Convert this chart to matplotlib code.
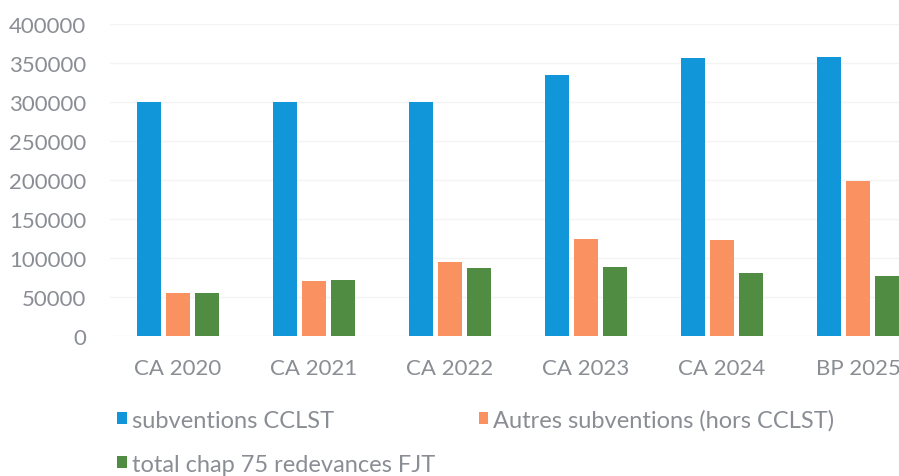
import numpy as np
import matplotlib
matplotlib.use("Agg")
import matplotlib.pyplot as plt

categories = ["CA 2020", "CA 2021", "CA 2022", "CA 2023", "CA 2024", "BP 2025"]
subventions_cclst = [300000, 300000, 300000, 334000, 357000, 357500]
autres_subventions = [55000, 70000, 94500, 125000, 123500, 199000]
total_chap_75 = [55000, 72000, 87000, 88500, 80500, 77500]

series_labels = ["subventions CCLST", "Autres subventions (hors CCLST)",
                 "total chap 75 redevances FJT"]
colors = ["#1296da", "#fa9161", "#508c41"]
text_color = "#8a8e94"

plt.rcParams["font.family"] = ["Lato", "DejaVu Sans"]

fig = plt.figure(figsize=(8.99, 4.77), dpi=100)
# plot area: x from 110px, zero line at 337px, top at 25px
ax = fig.add_axes([110 / 899, (477 - 337) / 477, 1 - 110 / 899, (337 - 25) / 477])

x = np.arange(len(categories))
w = 0.18
step = 0.215
series = [subventions_cclst, autres_subventions, total_chap_75]
bars = []
for i, (vals, c) in enumerate(zip(series, colors)):
    bars.append(ax.bar(x + (i - 1) * step, vals, width=w, color=c, zorder=2))

ax.set_xlim(-0.5, (899 - 110) / 136 - 0.5)
ax.set_ylim(0, 400000)
ax.set_yticks(np.arange(0, 400001, 50000))
ax.set_xticks(x)
ax.set_xticklabels(categories)
ax.tick_params(axis="y", length=0, pad=17, labelsize=16, labelcolor=text_color)
ax.tick_params(axis="x", length=0, pad=16, labelsize=16, labelcolor=text_color)
ax.grid(axis="y", color="#f4f4f4", linewidth=1, zorder=0)
for s in ax.spines.values():
    s.set_visible(False)

# legend filled column-wise: blue, green in col 1; orange in col 2
order = [0, 2, 1]
fig.legend([bars[i] for i in order], [series_labels[i] for i in order],
           ncol=2, loc="upper left",
           bbox_to_anchor=(117 / 899, 1 - 410 / 477), frameon=False,
           fontsize=17, labelcolor=text_color, handlelength=0.42, handleheight=0.42,
           handletextpad=0.2, columnspacing=1.85, labelspacing=0.98,
           borderaxespad=0, borderpad=0)

fig.savefig("out.png", dpi=100)
